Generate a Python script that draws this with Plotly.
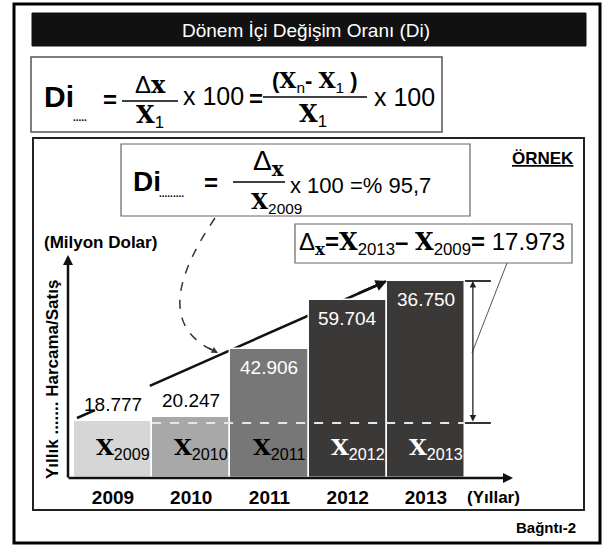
import plotly.graph_objects as go

W, H = 611, 546

# data
years = ["2009", "2010", "2011", "2012", "2013"]
values = ["18.777", "20.247", "42.906", "59.704", "36.750"]
bar_heights = [57, 61, 129, 178, 197]  # schematic heights as drawn (not to scale)
bar_colors = ["#d6d6d6", "#a8a8a8", "#777777", "#3b3937", "#3b3937"]
label_colors = ["black", "black", "black", "white", "white"]
value_colors = ["black", "black", "white", "white", "white"]

SANS = "Liberation Sans, Arial, sans-serif"
SERIF = "DejaVu Serif, serif"


def px(x):
    return x / W


def py(y):
    return 1 - y / H


def sx(t):
    return f'<span style="font-family:{SERIF};font-weight:bold">{t}</span>'


fig = go.Figure()

fig.add_trace(go.Bar(
    x=years, y=bar_heights, width=1,
    marker=dict(color=bar_colors, line=dict(color="white", width=1.5)),
    hoverinfo="skip", showlegend=False,
))

shapes = []
annotations = []


def note(text, x, y, size=16, color="black", xanchor="center", yanchor="middle", **kw):
    annotations.append(dict(
        text=text, x=px(x), y=py(y), xref="paper", yref="paper",
        showarrow=False, xanchor=xanchor, yanchor=yanchor,
        font=dict(size=size, color=color, family=kw.pop("family", SANS)), **kw))


def rect(x0, y0, x1, y1, color="black", width=1.5, fill=None):
    shapes.append(dict(type="rect", xref="paper", yref="paper",
                       x0=px(x0), y0=py(y0), x1=px(x1), y1=py(y1),
                       line=dict(color=color, width=width),
                       fillcolor=fill, layer="above"))


def hline(x0, x1, y, width=1.5, color="black"):
    shapes.append(dict(type="line", xref="paper", yref="paper",
                       x0=px(x0), x1=px(x1), y0=py(y), y1=py(y),
                       line=dict(color=color, width=width)))


# frames
rect(14, 4, 600, 543, width=3)
rect(32, 13, 586, 46, color="#111", width=1, fill="#111")
rect(31, 57, 442, 132, color="#555", width=1.5)
rect(33, 138, 584, 510, color="#222", width=2)
rect(121, 144, 470, 216, color="#666", width=1.2)
rect(295, 224, 572, 263, color="#666", width=1.2)

note("Dönem İçi Değişim Oranı (Di)", 306, 30, size=19, color="white")

# formula 1
note("<b>Di</b>", 42, 96, size=30, xanchor="left")
note("<b>.....</b>", 71, 117, size=10, xanchor="left")
note("<b>=</b>", 110, 99, size=24)
hline(122, 178, 101)
note("Δ" + sx("x"), 150, 84, size=24)
note(sx("X") + "<sub>1</sub>", 150, 116, size=24)
note("x 100", 181, 96, size=25, xanchor="left")
note("<b>=</b>", 256, 98, size=24)
hline(263, 367, 97)
note("<b>(</b>" + sx("X") + "<sub>n</sub><b>- </b>" + sx("X") + "<sub>1</sub><b> )</b>",
     315, 81, size=22)
note(sx("X") + "<sub>1</sub>", 313, 115, size=24)
note("x 100", 372, 97, size=25, xanchor="left")

# example box
note("<b><u>ÖRNEK</u></b>", 576, 158, size=17, xanchor="right")
note("<b>Di</b>", 131, 182, size=28, xanchor="left")
note("<b>.........</b>", 157, 193, size=10, xanchor="left")
note("<b>=</b>", 211, 183, size=24)
hline(233, 285, 182)
note("Δ<sub>" + sx("x") + "</sub>", 251, 163, size=28, xanchor="left")
note(sx("X") + "<sub>2009</sub>", 249, 202, size=22, xanchor="left")
note("x 100 =% 95,7", 288, 185, size=22, xanchor="left")

note("Δ<sub>" + sx("x") + "</sub><b>=</b>" + sx("X") + "<sub>2013</sub><b>–</b> "
     + sx("X") + "<sub>2009</sub><b>=</b> 17.973", 297, 243, size=24, xanchor="left")

# axis texts
note("<b>(Milyon Dolar)</b>", 42, 243, size=17, xanchor="left")
note("<b>Yıllık ....... Harcama/Satış</b>", 52, 380, size=17, textangle=-90)
note("<b>(Yıllar)</b>", 493, 497, size=17)
note("<b>Bağntı-2</b>", 578, 527, size=15, xanchor="right")

# axes arrows
annotations.append(dict(x=px(68), y=py(255), xref="paper", yref="paper", text="",
                        showarrow=True, ax=0, ay=224, axref="pixel", ayref="pixel",
                        arrowhead=2, arrowsize=0.8, arrowwidth=2.5, arrowcolor="#111"))
annotations.append(dict(x=px(513), y=py(478), xref="paper", yref="paper", text="",
                        showarrow=True, ax=-446, ay=0, axref="pixel", ayref="pixel",
                        arrowhead=2, arrowsize=0.8, arrowwidth=2.5, arrowcolor="#111"))

# labels on bars (category axis: annotations use the category index)
for i, yr in enumerate(years):
    annotations.append(dict(
        x=i, y=30, xref="x", yref="y", xshift=10, showarrow=False,
        text=sx("X") + "<sub>" + yr + "</sub>",
        font=dict(size=23, color=label_colors[i], family=SANS)))
    inside = i >= 2
    annotations.append(dict(
        x=i, y=bar_heights[i], xref="x", yref="y", showarrow=False,
        yshift=-18 if inside else 17, text=values[i],
        font=dict(size=19, color=value_colors[i], family=SANS)))

# level lines and difference arrow
h0, h4 = bar_heights[0], bar_heights[-1]
shapes.append(dict(type="line", xref="x", yref="y", x0=0.5, x1=4.5, y0=h0 - 2, y1=h0 - 2,
                   line=dict(color="#e6e6e6", width=2, dash="dash"), layer="above"))
shapes.append(dict(type="line", xref="x", yref="y", x0=4.5, x1=4.83, y0=h0 - 2, y1=h0 - 2,
                   line=dict(color="#333", width=2)))
shapes.append(dict(type="line", xref="x", yref="y", x0=4.5, x1=4.83, y0=h4, y1=h4,
                   line=dict(color="#333", width=2)))
annotations.append(dict(x=4.6, y=h4, xref="x", yref="y", ax=4.6, ay=h0 - 2,
                        axref="x", ayref="y", text="", showarrow=True,
                        arrowhead=2, arrowside="end+start", arrowsize=1,
                        arrowwidth=1.3, arrowcolor="#222"))

# trend arrow from X2009 to X2013 (behind bars)
x_start, y_start = -0.46, h0 + 3
x_end, y_end = 3.5, h4
for t0, t1 in [(0, 0.058), (0.235, 1)]:
    shapes.append(dict(type="line", xref="x", yref="y", layer="below",
                       x0=x_start + (x_end - x_start) * t0, y0=y_start + (y_end - y_start) * t0,
                       x1=x_start + (x_end - x_start) * t1, y1=y_start + (y_end - y_start) * t1,
                       line=dict(color="#111", width=2.5)))
annotations.append(dict(x=x_end, y=y_end, xref="x", yref="y", ax=-30, ay=13,
                        text="", showarrow=True, arrowhead=2, arrowsize=0.9,
                        arrowwidth=2.5, arrowcolor="#111"))

# connectors
pts = [(215, 218), (180, 270), (158, 325), (214, 351)]
path = "M {},{} C {},{} {},{} {},{}".format(*[v for p in pts for v in (px(p[0]), py(p[1]))])
shapes.append(dict(type="path", xref="paper", yref="paper", path=path,
                   line=dict(color="#333", width=1.5, dash="dash")))
annotations.append(dict(x=px(218), y=py(353), xref="paper", yref="paper", text="",
                        showarrow=True, ax=-11, ay=-6, axref="pixel", ayref="pixel",
                        arrowhead=2, arrowsize=1, arrowwidth=1.3, arrowcolor="#333"))
shapes.append(dict(type="line", xref="paper", yref="paper",
                   x0=px(507), y0=py(263), x1=px(472), y1=py(353),
                   line=dict(color="#555", width=1)))

fig.update_layout(
    width=W, height=H,
    margin=dict(l=0, r=0, t=0, b=0),
    paper_bgcolor="white", plot_bgcolor="rgba(0,0,0,0)",
    bargap=0,
    xaxis=dict(domain=[px(68), px(512)], range=[-0.575, 5.1], type="category",
               showgrid=False, zeroline=False, showline=False,
               ticks="outside", ticklen=2, tickcolor="rgba(0,0,0,0)",
               tickvals=years, ticktext=["<b>" + y + "</b>" for y in years],
               tickfont=dict(size=19, color="black", family=SANS)),
    yaxis=dict(domain=[py(478), py(255)], range=[0, 223], visible=False),
    shapes=shapes, annotations=annotations,
    showlegend=False,
)

# page has a default 8px body margin; drop it so the figure fills the window
fig.write_html("out.html", config={"displayModeBar": False},
               post_script="document.body.style.margin='0';")
